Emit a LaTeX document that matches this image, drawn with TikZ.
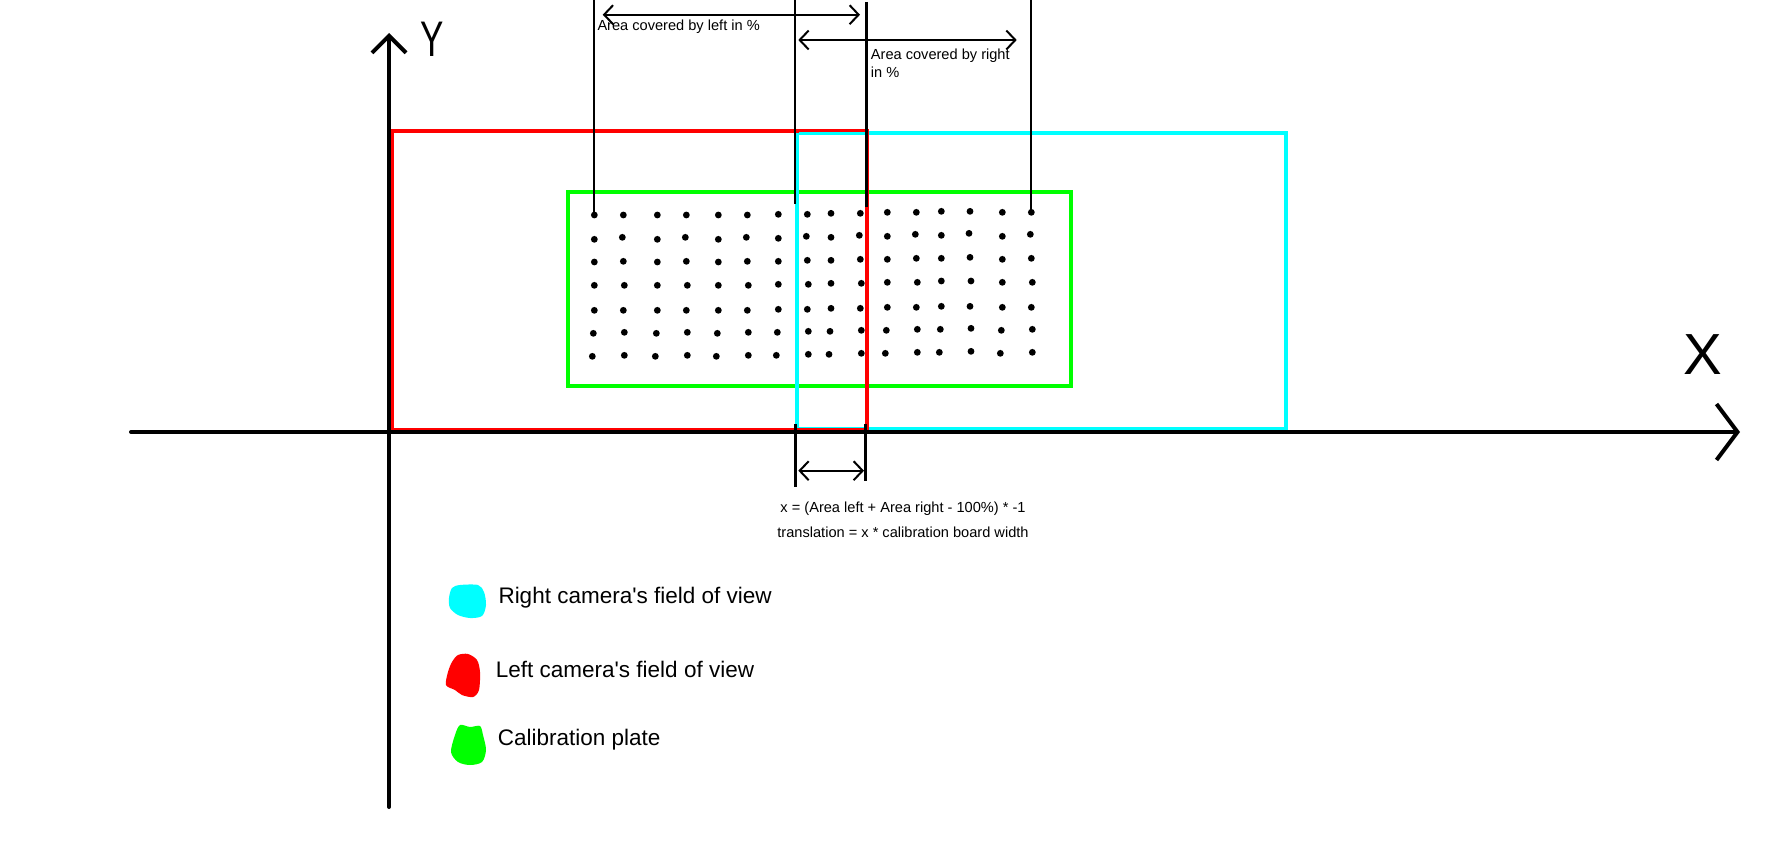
\documentclass[tikz,border=0pt]{standalone}
\usepackage{fontspec}
\setmainfont{Liberation Sans}[Ligatures=TeXOff]
\usetikzlibrary{arrows.meta}
\definecolor{camred}{RGB}{255,0,0}
\definecolor{camcyan}{RGB}{0,255,255}
\definecolor{plategreen}{RGB}{0,255,0}
\begin{document}
\begin{tikzpicture}[x=1pt,y=-1pt,
  axisline/.style={line width=4pt, line cap=round},
  dimline/.style={line width=2.5pt},
  dimarrow/.style={line width=2pt, {Straight Barb[length=9pt,width=19pt]}-{Straight Barb[length=9pt,width=19pt]}},
  smalltext/.style={font=\fontsize{14.6}{17.5}\selectfont, inner sep=0pt},
  legendtext/.style={font=\fontsize{22.5}{27}\selectfont, inner sep=0pt},
  fov/.style={line width=4pt}]
\useasboundingbox (0,0) rectangle (1784,861);

% calibration plate
\draw[plategreen, line width=3.6pt] (567.7,191.7) rectangle (1071,385.7);
% dots, left half (zoom coordinates: origin 555,180, factor 1/3)
\foreach \a/\b in {118/105,205/105,307/105,394/105,490/105,577/105,670/103,757/103,
  118/178,202/172,307/178,391/172,490/178,574/172,670/175,754/169,
  118/246,205/244,307/246,394/244,490/246,577/244,670/244,757/241,
  118/316,208/316,307/316,397/316,490/316,580/316,670/313,760/313,
  118/391,205/391,307/391,394/391,490/391,577/391,670/388,757/388,
  115/460,208/457,304/460,397/457,487/460,580/457,667/457,760/454,
  112/529,208/526,301/529,397/526,484/529,580/526,664/526,760/523}
  \fill ({555+\a/3},{180+\b/3}) circle (3.4pt);
% dots, right half (origin 815,180)
\foreach \a/\b in {48/100,136/100,217/97,304/97,379/94,465/94,562/97,649/97,
  48/172,133/166,217/169,301/163,379/166,462/160,562/169,646/163,
  48/241,136/238,217/238,304/235,379/235,465/232,562/238,649/235,
  48/310,139/310,217/307,307/307,379/303,468/303,562/307,652/307,
  48/385,136/385,217/382,304/382,379/379,465/379,562/382,649/382,
  45/454,139/451,214/451,307/448,376/448,468/445,559/451,652/448,
  42/523,139/520,211/520,307/517,373/517,468/514,556/520,652/517}
  \fill ({815+\a/3},{180+\b/3}) circle (3.4pt);

% fields of view
\draw[camcyan, fov] (796.5,133.5) rectangle (1285.5,429);
\draw[camred, fov] (392,131.5) rectangle (866.5,430);
\draw[camcyan, line width=3pt] (798.5,134) -- (866.5,134);

% axes
\coordinate (yb) at (389,807);
\coordinate (yt) at (389,33);
\coordinate (xl) at (131,432);
\coordinate (xr) at (1740,432);
\draw[axisline, -{Straight Barb[length=17pt,width=34pt]}] (yb) -- (yt);
\draw[axisline, -{Straight Barb[length=21pt,width=56pt]}] (xl) -- (xr);
\node[font=\fontsize{58}{60}\selectfont, inner sep=0pt] (xlabel) at (1703,355) {X};
\node[font=\fontsize{50}{52}\selectfont, inner sep=0pt] (ylabel) at (432,39.5) {\scalebox{0.7}[1]{Y}};

% top dimension lines
\coordinate (a1) at (594,0);     \coordinate (b1) at (594,215);
\coordinate (a2) at (795,0);     \coordinate (b2) at (795,204);
\coordinate (a3) at (866.7,2);   \coordinate (b3) at (866.7,207);
\coordinate (a4) at (1031,0);    \coordinate (b4) at (1031,212);
\draw[dimline] (a1) -- (b1);
\draw[dimline] (a2) -- (b2);
\draw[dimline] (a3) -- (b3);
\draw[dimline] (a4) -- (b4);
\coordinate (p1) at (602.7,14.7); \coordinate (q1) at (860,14.7);
\coordinate (p2) at (798.3,40);   \coordinate (q2) at (1016.7,40);
\draw[dimarrow] (p1) -- (q1);
\draw[dimarrow] (p2) -- (q2);
\node[smalltext, anchor=base west] (leftlbl) at (597.3,31) {Area covered by left in \%};
\node[smalltext, anchor=base west] (rightlbla) at (870.7,60) {Area covered by right};
\node[smalltext, anchor=base west] (rightlblb) at (870.7,78) {in \%};

% bottom dimension
\coordinate (c1) at (795.7,424); \coordinate (d1) at (795.7,487);
\coordinate (c2) at (865.7,424); \coordinate (d2) at (865.7,481);
\draw[dimline] (c1) -- (d1);
\draw[dimline] (c2) -- (d2);
\coordinate (e1) at (798.3,470.7); \coordinate (e2) at (864,470.7);
\draw[dimarrow] (e1) -- (e2);
\node[smalltext, anchor=base] (formula1) at (903,512.3) {x = (Area left + Area right - 100\%) * -1};
\node[smalltext, anchor=base] (formula2) at (903,537.7) {translation = x * calibration board width};

% legend
\fill[camcyan] plot[smooth cycle] coordinates {(449,598) (452,588) (460,585) (478,585) (484,592) (486,605) (482,616) (470,618) (458,615) (450,608)};
\fill[camred] plot[smooth cycle] coordinates {(452,662) (458,655) (468,654) (477,660) (480,672) (479,690) (473,697) (462,695) (455,690) (446,685) (448,672)};
\fill[plategreen] plot[smooth cycle] coordinates {(455,735) (460,725) (470,727) (480,726) (483,735) (486,750) (482,762) (470,765) (458,762) (451,752)};
\node[legendtext, anchor=base west] (lgright) at (498.3,603.3) {Right camera's field of view};
\node[legendtext, anchor=base west] (lgleft) at (495.7,677.7) {Left camera's field of view};
\node[legendtext, anchor=base west] (lgplate) at (497.7,745.7) {Calibration plate};
\end{tikzpicture}
\end{document}
